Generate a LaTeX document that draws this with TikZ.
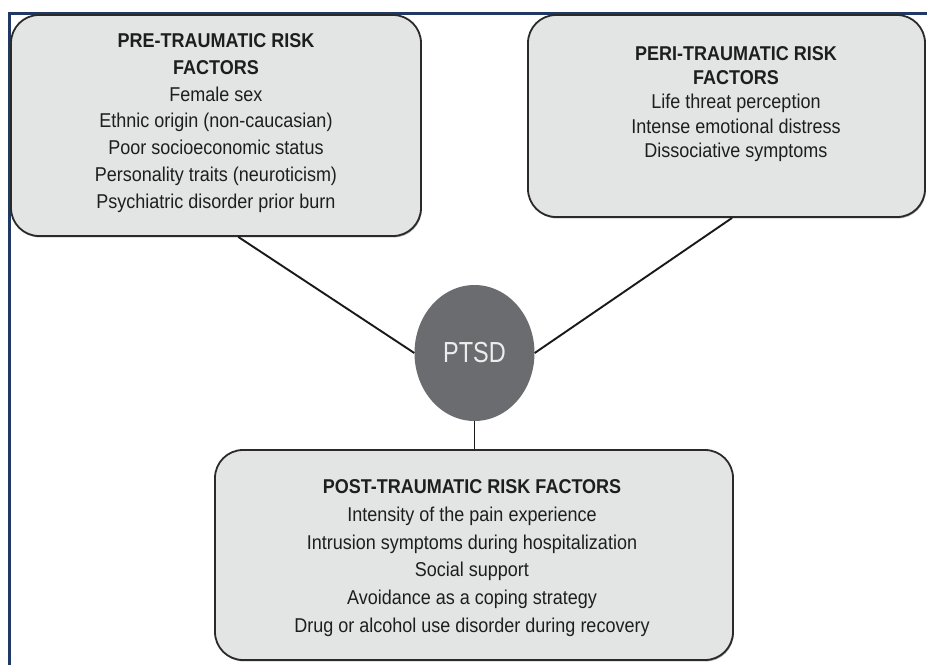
\documentclass[tikz,border=0pt]{standalone}
\usepackage{fontspec}
\setmainfont[FakeStretch=0.9]{Liberation Sans}
\usetikzlibrary{shapes.geometric,calc,shadows}
\definecolor{frameblue}{HTML}{1F3864}
\definecolor{boxfill}{HTML}{E3E5E5}
\definecolor{boxline}{HTML}{2A2A2A}
\definecolor{ptsdfill}{HTML}{6B6C70}
\definecolor{txt}{HTML}{1E1E1E}
\begin{document}
\begin{tikzpicture}[x=1pt,y=-1pt,
  riskbox/.style={draw=boxline, line width=1.8pt, fill=boxfill, rounded corners=28pt, inner sep=0pt,
    drop shadow={shadow xshift=0.8pt, shadow yshift=-1.4pt, fill=black!55, opacity=0.6}},
  boxtext/.style={align=center, text=txt, inner sep=0pt},
  link/.style={draw=black!90, line width=1.9pt}]
\useasboundingbox (0,0) rectangle (927,665);
\fill[white] (0,0) rectangle (927,665);
\draw[frameblue, line width=3pt] (9.7,665) -- (9.7,13.5) -- (927,13.5);

\node[riskbox, minimum width=410pt, minimum height=221pt] (b1) at (216,125.5) {};
\node[riskbox, minimum width=397pt, minimum height=202pt] (b2) at (726.5,116) {};
\node[riskbox, minimum width=518pt, minimum height=210pt] (b3) at (474,555) {};
\node[ellipse, fill=ptsdfill, minimum width=120pt, minimum height=136pt, inner sep=0pt,
      text=white!93!black, font=\fontsize{29}{30}\selectfont] (ptsd) at (474.5,353) {\scalebox{0.9}[1]{PTSD}};

\draw[link] ($(b1.south west)!0.554!(b1.south east)$) -- (ptsd.west);
\draw[link] ($(b2.south west)!0.514!(b2.south east)$) -- (ptsd.east);
\draw[link] (ptsd.south) -- (ptsd.south |- b3.north);

\node[boxtext, font=\fontsize{20}{26.8}\selectfont] (t1) at (216,123) {%
  \textbf{PRE-TRAUMATIC RISK}\\ \textbf{FACTORS}\\ Female sex\\ Ethnic origin (non-caucasian)\\
  Poor socioeconomic status\\ Personality traits (neuroticism)\\ Psychiatric disorder prior burn};
\node[boxtext, font=\fontsize{20}{24.3}\selectfont] (t2) at (736,104) {%
  \textbf{PERI-TRAUMATIC RISK}\\ \textbf{FACTORS}\hspace*{12pt}\\ Life threat perception\hspace*{34pt}\\
  Intense emotional distress\\ Dissociative symptoms};
\node[boxtext, font=\fontsize{20}{27.8}\selectfont] (t3) at (472,558) {%
  \textbf{POST-TRAUMATIC RISK FACTORS}\\ Intensity of the pain experience\\
  Intrusion symptoms during hospitalization\\ Social support\\
  Avoidance as a coping strategy\\ Drug or alcohol use disorder during recovery};
\end{tikzpicture}
\end{document}
